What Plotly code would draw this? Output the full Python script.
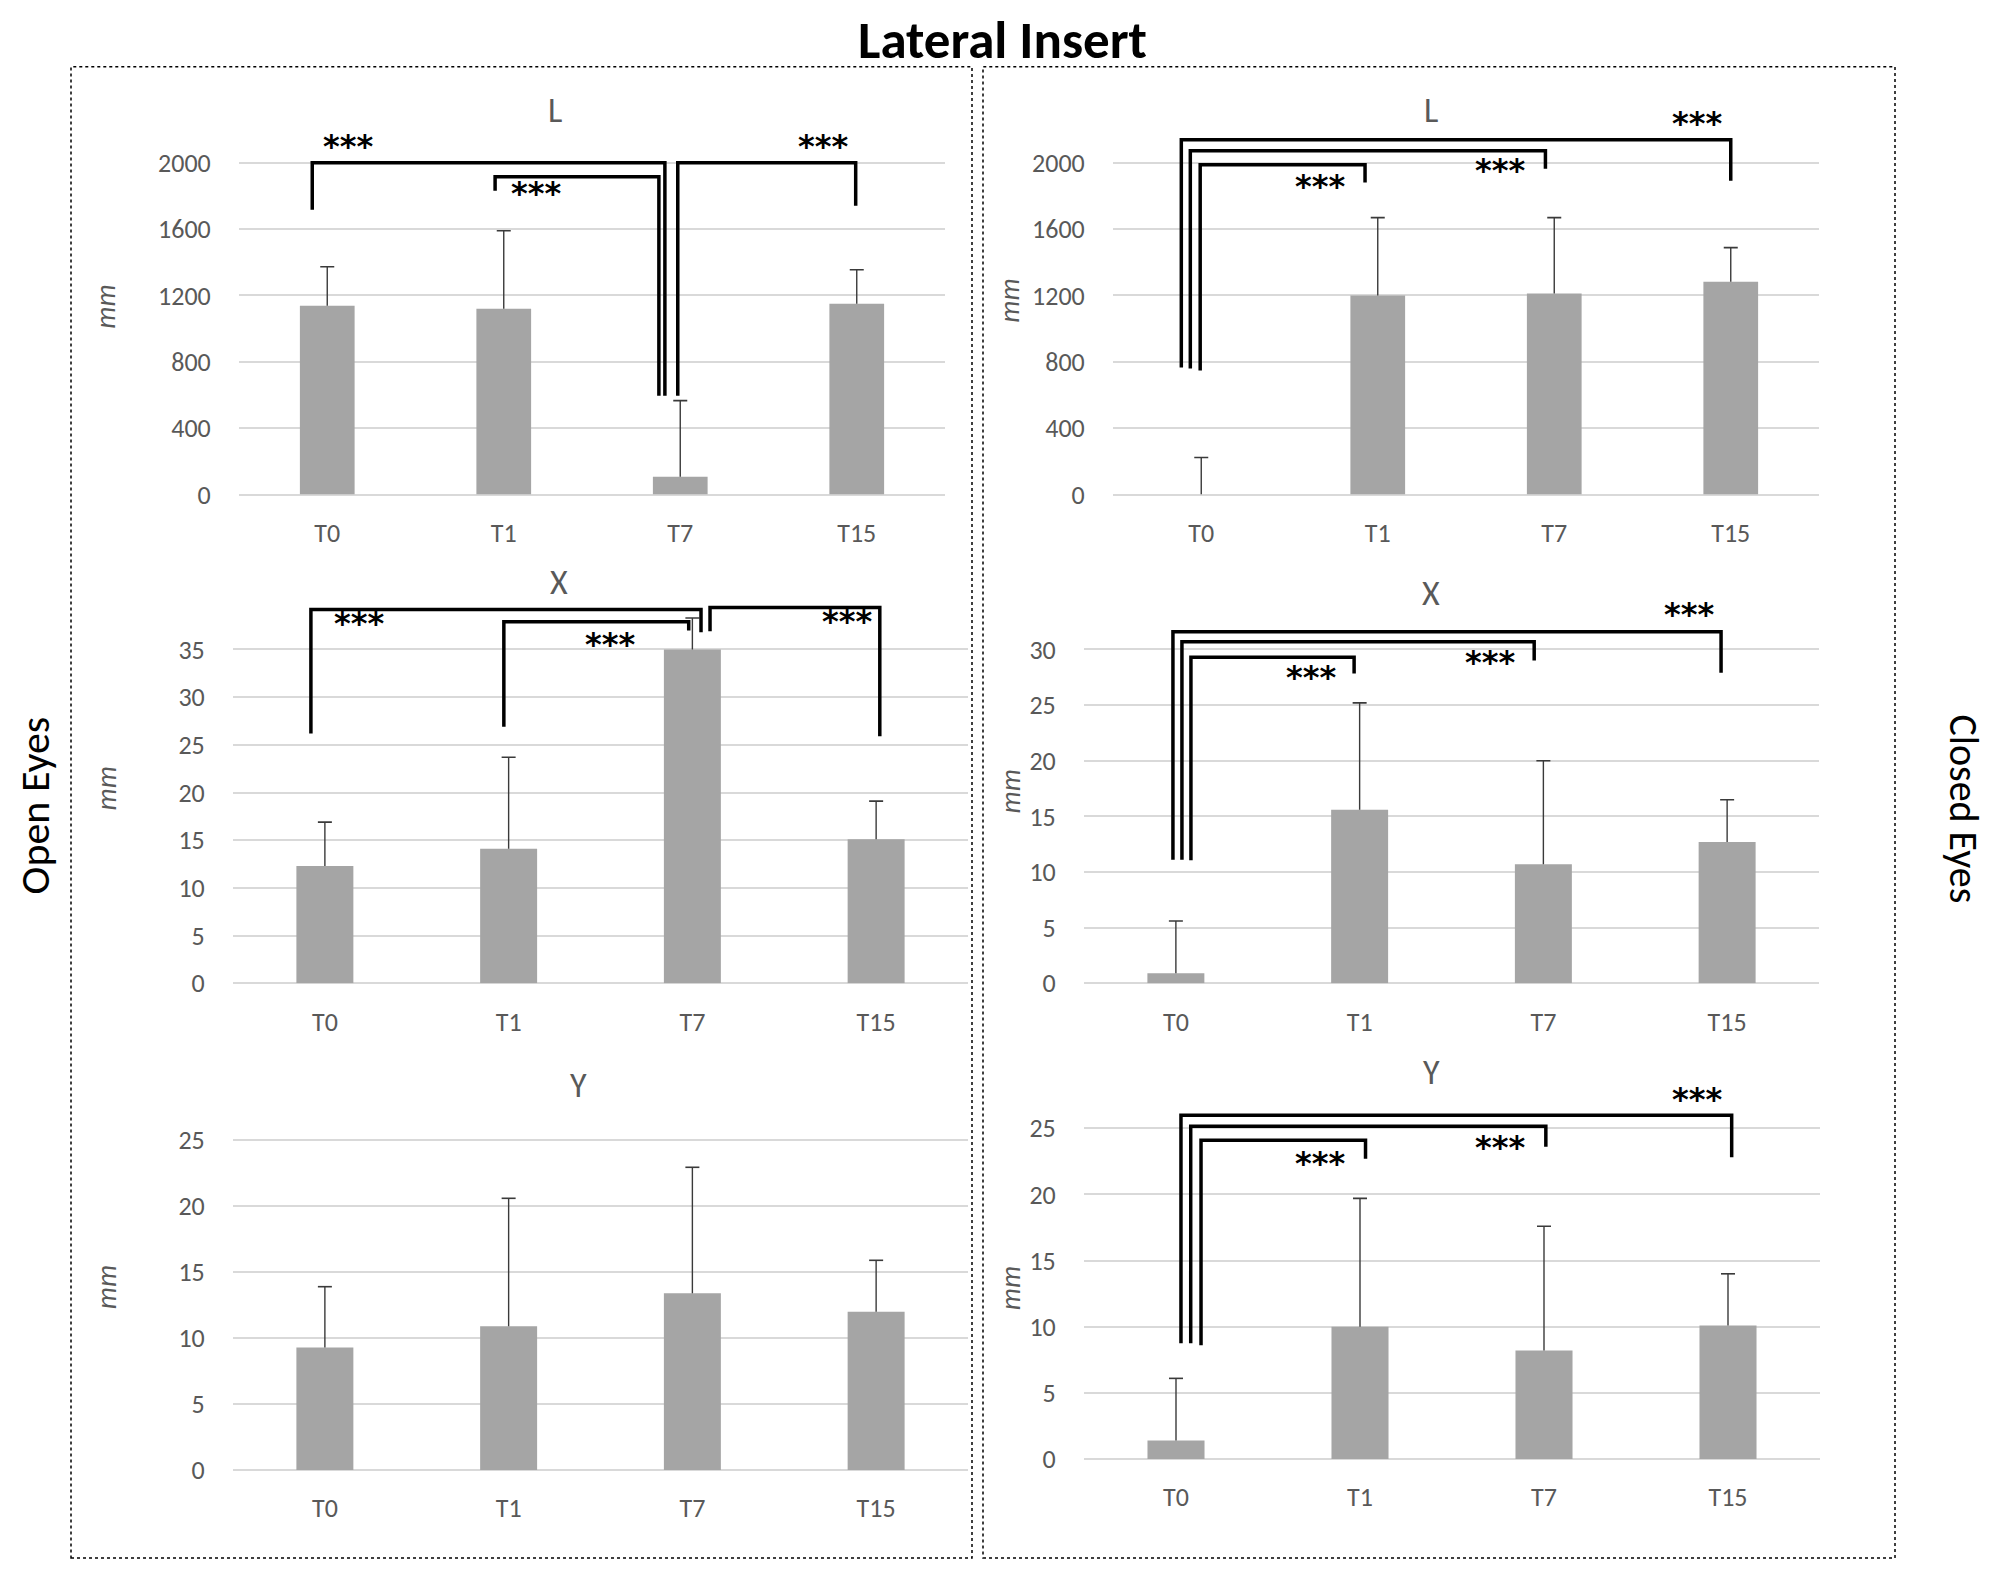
import plotly.graph_objects as go

# the page keeps an 8px body margin and the shot comes back a little squeezed
# in height, so reference pixels are mapped through KY and BY (vertical) and OFF
OFF = 8
KY, BY = 1.0137, -13.4
FW, FH = 2000 - 2 * OFF, 1573

categories = ["T0", "T1", "T7", "T15"]

# means and SD (upper error)
open_l_mean = [1138, 1120, 108, 1150]
open_l_sd = [235, 470, 458, 205]
open_x_mean = [12.3, 14.1, 35.0, 15.1]
open_x_sd = [4.6, 9.6, 3.3, 4.0]
open_y_mean = [9.3, 10.9, 13.4, 12.0]
open_y_sd = [4.6, 9.7, 9.55, 3.9]

closed_l_mean = [0, 1199, 1211, 1283]
closed_l_sd = [223, 470, 458, 205]
closed_x_mean = [0.9, 15.6, 10.7, 12.7]
closed_x_sd = [4.7, 9.6, 9.3, 3.8]
closed_y_mean = [1.4, 10.0, 8.2, 10.1]
closed_y_sd = [4.7, 9.7, 9.4, 3.9]

# significance brackets: (left x, right x, top, left foot, right foot), x in category index
open_l_brackets = [(-0.085, 1.913, 2000, 1717, 596), (0.951, 1.879, 1916, 1831, 596), (1.986, 2.994, 2000, 595, 1741)]
open_l_stars = [(0.12, 2102), (1.18, 1819), (2.81, 2102)]
open_x_brackets = [(-0.076, 2.047, 39.2, 26.2, 36.8), (0.974, 1.98, 37.9, 26.9, 37.0), (2.096, 3.02, 39.4, 36.9, 25.9)]
open_x_stars = [(0.185, 37.8), (1.55, 35.6), (2.84, 38.0)]
closed_l_brackets = [(-0.113, 3.0, 2139, 765, 1892), (-0.062, 1.95, 2072, 759, 1964), (-0.006, 0.928, 1988, 747, 1880)]
closed_l_stars = [(0.67, 1861), (1.69, 1958), (2.81, 2241)]
closed_x_brackets = [(-0.016, 2.967, 31.6, 11.1, 27.9), (0.033, 1.95, 30.7, 11.1, 29.0), (0.082, 0.97, 29.3, 11.05, 27.85)]
closed_x_stars = [(0.735, 27.5), (1.71, 28.9), (2.79, 33.2)]
closed_y_brackets = [(0.027, 3.02, 25.98, 8.76, 22.8), (0.08, 2.01, 25.15, 8.76, 23.6), (0.136, 1.03, 24.1, 8.6, 22.7)]
closed_y_stars = [(0.78, 22.4), (1.76, 23.6), (2.83, 27.2)]

FONT = "Carlito, 'Liberation Sans Narrow', 'Open Sans', sans-serif"
GREY = "#595959"
ERR = "#3a3a3a"


def fx(px):
    return (px - OFF) / FW


def fy(py):
    return 1 - (py * KY + BY) / FH


# layout of each panel in pixels: plot x span, pixel of 0 and of top tick, axis max
panels = [
    dict(title="L", mean=open_l_mean, sd=open_l_sd, br=open_l_brackets, st=open_l_stars,
         x0=239, x1=945, y_zero=494, y_top=162, top_tick=2000, dtick=400, ymax=2060,
         title_xy=(555, 110), mm_xy=(106, 306)),
    dict(title="X", mean=open_x_mean, sd=open_x_sd, br=open_x_brackets, st=open_x_stars,
         x0=233, x1=968, y_zero=983, y_top=649, top_tick=35, dtick=5, ymax=40,
         title_xy=(559, 582), mm_xy=(106, 788)),
    dict(title="Y", mean=open_y_mean, sd=open_y_sd, br=[], st=[],
         x0=233, x1=968, y_zero=1470, y_top=1140, top_tick=25, dtick=5, ymax=26,
         title_xy=(578, 1085), mm_xy=(106, 1287)),
    dict(title="L", mean=closed_l_mean, sd=closed_l_sd, br=closed_l_brackets, st=closed_l_stars,
         x0=1113, x1=1819, y_zero=494, y_top=162, top_tick=2000, dtick=400, ymax=2175,
         title_xy=(1431, 110), mm_xy=(1010, 300)),
    dict(title="X", mean=closed_x_mean, sd=closed_x_sd, br=closed_x_brackets, st=closed_x_stars,
         x0=1084, x1=1819, y_zero=983, y_top=649, top_tick=30, dtick=5, ymax=32,
         title_xy=(1431, 593), mm_xy=(1010, 791)),
    dict(title="Y", mean=closed_y_mean, sd=closed_y_sd, br=closed_y_brackets, st=closed_y_stars,
         x0=1084, x1=1820, y_zero=1459, y_top=1128, top_tick=25, dtick=5, ymax=26.5,
         title_xy=(1431, 1072), mm_xy=(1010, 1288)),
]

fig = go.Figure()
shapes = []
annotations = []

for i, p in enumerate(panels):
    n = "" if i == 0 else str(i + 1)
    xa, ya = "x" + n, "y" + n
    fig.add_trace(go.Bar(
        x=categories, y=p["mean"], marker=dict(color="#a5a5a5", line=dict(width=0)),
        xaxis=xa, yaxis=ya, showlegend=False,
    ))

    # upper error bars only (stem + cap), no shoe on the bar top
    tops = [m + s for m, s in zip(p["mean"], p["sd"])]
    sx, sy = [], []
    for c, m, t in zip(categories, p["mean"], tops):
        sx += [c, c, None]
        sy += [m, t, None]
    fig.add_trace(go.Scatter(x=sx, y=sy, mode="lines", line=dict(color=ERR, width=1.4),
                             xaxis=xa, yaxis=ya, showlegend=False, hoverinfo="skip"))
    fig.add_trace(go.Scatter(x=categories, y=tops, mode="markers",
                             marker=dict(symbol="line-ew", size=10, line=dict(color=ERR, width=1.6)),
                             xaxis=xa, yaxis=ya, showlegend=False))

    ppu = (p["y_zero"] - p["y_top"]) / p["top_tick"]
    top_px = p["y_zero"] - p["ymax"] * ppu
    fig.layout["xaxis" + n] = dict(
        domain=[fx(p["x0"]), fx(p["x1"])], anchor=ya,
        type="category", range=[-0.5, 3.5], showgrid=False, zeroline=False, showline=False,
        ticks="outside", ticklen=15, tickcolor="rgba(0,0,0,0)",
        tickfont=dict(family=FONT, size=26, color=GREY),
    )
    fig.layout["yaxis" + n] = dict(
        domain=[fy(p["y_zero"]), fy(top_px)], anchor=xa,
        range=[0, p["ymax"]], tickvals=list(range(0, p["top_tick"] + 1, p["dtick"])),
        showgrid=True, gridcolor="#d9d9d9", gridwidth=2,
        zeroline=True, zerolinecolor="#d9d9d9", zerolinewidth=2, showline=False,
        ticks="outside", ticklen=22, tickcolor="rgba(0,0,0,0)",
        tickfont=dict(family=FONT, size=26, color=GREY),
    )

    for xl, xr, top, fl, fr in p["br"]:
        shapes.append(dict(
            type="path", xref=xa, yref=ya,
            path=f"M {xl},{fl} L {xl},{top} L {xr},{top} L {xr},{fr}",
            line=dict(color="black", width=3.5),
        ))
    step = (p["x1"] - p["x0"]) / len(categories)
    for stx, sty in p["st"]:
        annotations.append(dict(
            x=fx(p["x0"] + (stx + 0.5) * step), y=fy(p["y_zero"] - sty * ppu),
            xref="paper", yref="paper", xanchor="center", yanchor="middle",
            text="***", showarrow=False,
            font=dict(family="DejaVu Sans", size=32, color="black", weight="bold"),
        ))

    tx, ty = p["title_xy"]
    annotations.append(dict(x=fx(tx), y=fy(ty), xref="paper", yref="paper",
                            xanchor="center", yanchor="middle", text=p["title"], showarrow=False,
                            font=dict(family=FONT, size=34, color=GREY)))
    mx, my = p["mm_xy"]
    annotations.append(dict(x=fx(mx), y=fy(my), xref="paper", yref="paper",
                            xanchor="center", yanchor="middle", text="<i>mm</i>",
                            textangle=-90, showarrow=False, font=dict(family=FONT, size=28, color=GREY)))

# dashed frames round the two columns
for bx0, bx1 in [(71, 972), (983, 1895)]:
    shapes.append(dict(type="rect", xref="paper", yref="paper",
                       x0=fx(bx0), x1=fx(bx1), y0=fy(1558), y1=fy(66),
                       line=dict(color="black", width=1.5, dash="dot")))

# title box starts a little above the plot top: only its empty leading is hidden
annotations.append(dict(x=fx(1003), y=1 + 7 / FH, xref="paper", yref="paper", xanchor="center", yanchor="top",
                        text="Lateral Insert", showarrow=False, borderpad=0,
                        font=dict(family=FONT, size=53, color="black", weight="bold")))
annotations.append(dict(x=fx(34), y=fy(805), xref="paper", yref="paper", xanchor="center", yanchor="middle",
                        text="Open Eyes", textangle=-90, showarrow=False,
                        font=dict(family=FONT, size=42, color="black")))
annotations.append(dict(x=fx(1964), y=fy(808), xref="paper", yref="paper", xanchor="center", yanchor="middle",
                        text="Closed Eyes", textangle=90, showarrow=False,
                        font=dict(family=FONT, size=40, color="black")))

fig.update_layout(
    width=FW, height=FH, margin=dict(l=0, r=0, t=0, b=0),
    paper_bgcolor="white", plot_bgcolor="white",
    bargap=0.69, shapes=shapes, annotations=annotations,
)

fig.write_html("out.html")
